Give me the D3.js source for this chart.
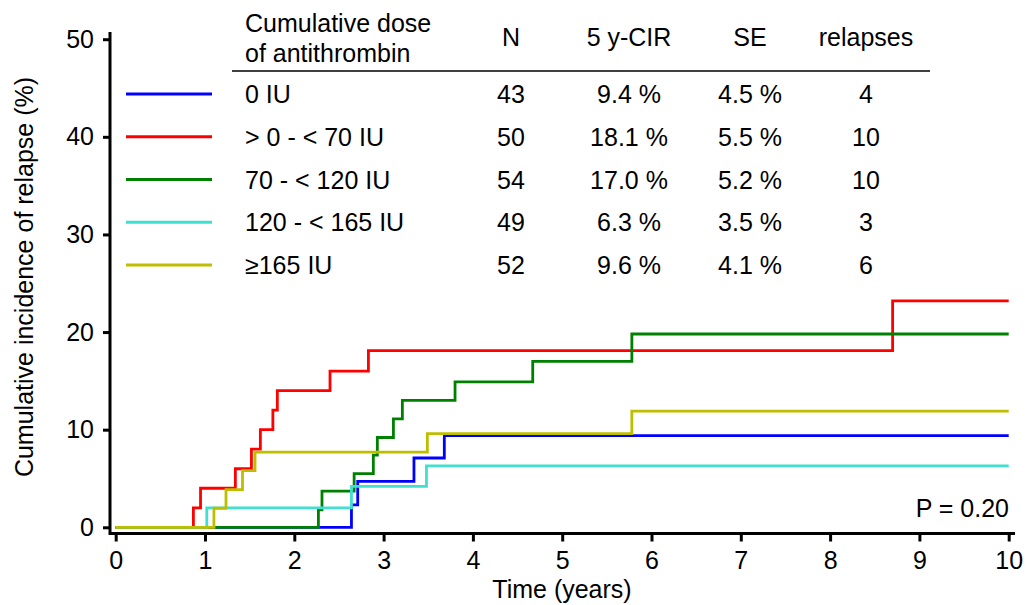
<!DOCTYPE html>
<html><head><meta charset="utf-8">
<script src="https://cdn.jsdelivr.net/npm/d3@7/dist/d3.min.js"></script>
<style>
html,body{margin:0;padding:0;background:#fff;}
text{font-family:"Liberation Sans",Arial,Helvetica,sans-serif;fill:#000;}
</style></head>
<body>
<svg id="c" width="1029" height="605"></svg>
<script>
// ---- data ----
const groups = ["0 IU", "> 0 - < 70 IU", "70 - < 120 IU", "120 - < 165 IU", "\u2265165 IU"];
const colors = ["#0000FF", "#FF0000", "#008000", "#40E0D0", "#BEBE00"];
const nPatients = ["43", "50", "54", "49", "52"];
const cir5 = ["9.4 %", "18.1 %", "17.0 %", "6.3 %", "9.6 %"];
const seVals = ["4.5 %", "5.5 %", "5.2 %", "3.5 %", "4.1 %"];
const relapses = ["4", "10", "10", "3", "6"];

const blueTimes = [2.64, 2.71, 3.34, 3.68];
const blueVals  = [2.3, 4.7, 7.1, 9.4];
const redTimes  = [0.87, 0.95, 1.34, 1.52, 1.62, 1.76, 1.81, 2.40, 2.83, 8.70];
const redVals   = [2.0, 4.0, 6.0, 8.0, 10.0, 12.0, 14.0, 16.0, 18.1, 23.2];
const greenTimes = [2.27, 2.31, 2.67, 2.885, 2.93, 3.11, 3.21, 3.80, 4.67, 5.78];
const greenVals  = [1.8, 3.7, 5.5, 7.4, 9.2, 11.1, 13.0, 14.9, 17.0, 19.8];
const cyanTimes = [1.02, 2.64, 3.48];
const cyanVals  = [2.0, 4.2, 6.3];
const yellowTimes = [1.10, 1.235, 1.42, 1.56, 3.49, 5.78];
const yellowVals  = [1.95, 3.85, 5.8, 7.7, 9.6, 11.9];

const xTicks = [0,1,2,3,4,5,6,7,8,9,10];
const yTicks = [0,10,20,30,40,50];
const maxTime = 10;
const pText = "P = 0.20";

// ---- drawing ----
const svg = d3.select("#c");
const x = d3.scaleLinear().domain([0,10]).range([115.7,1008.7]);
const y = d3.scaleLinear().domain([0,50]).range([527.3,39.2]);
const FS = 25;

// axes box (L shape)
svg.append("path").attr("d","M110,32 V533.5 H1015")
  .attr("fill","none").attr("stroke","#000").attr("stroke-width",3);

const xAxis = svg.append("g").attr("transform","translate(0,533.5)")
  .call(d3.axisBottom(x).tickValues(xTicks).tickFormat(d3.format("d")).tickSize(8).tickPadding(10));
xAxis.select(".domain").remove();
xAxis.selectAll("line").attr("stroke-width",3);
xAxis.selectAll("text").attr("font-size",FS).attr("font-family","Liberation Sans, Arial, sans-serif");

const yAxis = svg.append("g").attr("transform","translate(110,0)")
  .call(d3.axisLeft(y).tickValues(yTicks).tickFormat(d3.format("d")).tickSize(7).tickPadding(9));
yAxis.select(".domain").remove();
yAxis.selectAll("line").attr("stroke-width",3);
yAxis.selectAll("text").attr("font-size",FS).attr("font-family","Liberation Sans, Arial, sans-serif");

svg.append("text").attr("x",562).attr("y",598).attr("text-anchor","middle")
  .attr("font-size",FS).text("Time (years)");
svg.append("text").attr("transform","translate(33,277) rotate(-90)")
  .attr("text-anchor","middle").attr("font-size",FS).text("Cumulative incidence of relapse (%)");

// curves
const series = [
  [blueTimes, blueVals], [redTimes, redVals], [greenTimes, greenVals],
  [cyanTimes, cyanVals], [yellowTimes, yellowVals]
];
const line = d3.line().x(d=>x(d[0])).y(d=>y(d[1])).curve(d3.curveStepAfter);
series.forEach((s,i)=>{
  const pts = [[0,0]];
  s[0].forEach((t,j)=>pts.push([t, s[1][j]]));
  pts.push([maxTime, s[1][s[1].length-1]]);
  svg.append("path").attr("d", line(pts)).attr("fill","none")
    .attr("stroke", colors[i]).attr("stroke-width",2.8);
});

// legend table
const header = svg.append("g");
header.append("text").attr("x",245).attr("y",32).attr("font-size",FS).text("Cumulative dose");
header.append("text").attr("x",245).attr("y",62).attr("font-size",FS).text("of antithrombin");
const colX = [511, 629, 750, 866];
["N","5 y-CIR","SE","relapses"].forEach((h,i)=>{
  header.append("text").attr("x",colX[i]).attr("y",46).attr("text-anchor","middle")
    .attr("font-size",FS).text(h);
});
svg.append("line").attr("x1",232).attr("x2",930).attr("y1",71).attr("y2",71)
  .attr("stroke","#000").attr("stroke-width",1.5);

const rowY = d3.range(groups.length).map(i => 94 + i*42.75);
groups.forEach((g,i)=>{
  svg.append("line").attr("x1",126).attr("x2",212).attr("y1",rowY[i]).attr("y2",rowY[i])
    .attr("stroke",colors[i]).attr("stroke-width",3);
  svg.append("text").attr("x",245).attr("y",rowY[i]+9).attr("font-size",FS).text(g);
  [nPatients[i], cir5[i], seVals[i], relapses[i]].forEach((v,k)=>{
    svg.append("text").attr("x",colX[k]).attr("y",rowY[i]+9).attr("text-anchor","middle")
      .attr("font-size",FS).text(v);
  });
});

svg.append("text").attr("x",1009).attr("y",517).attr("text-anchor","end")
  .attr("font-size",FS).text(pText);
</script>
</body></html>
